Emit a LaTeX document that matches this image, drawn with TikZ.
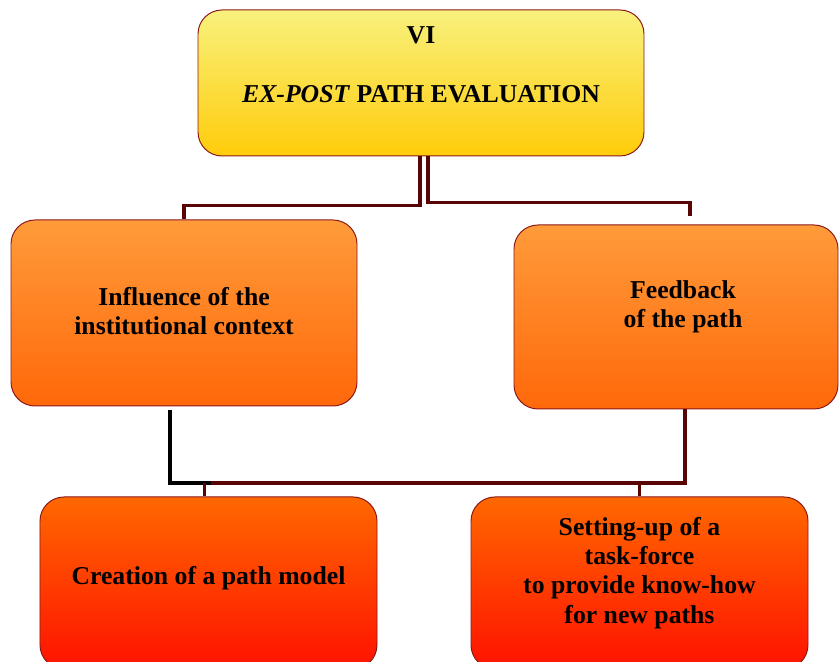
\documentclass[tikz,border=0pt]{standalone}
\usepackage{fontspec}
\setmainfont{Liberation Serif}
\usetikzlibrary{calc}
\definecolor{edge}{RGB}{140,25,25}
\definecolor{wire}{RGB}{90,5,5}
\definecolor{yelTop}{RGB}{248,241,125}
\definecolor{yelBot}{RGB}{255,204,10}
\definecolor{orTop}{RGB}{255,155,58}
\definecolor{orBot}{RGB}{255,104,10}
\definecolor{rdTop}{RGB}{255,104,0}
\definecolor{rdBot}{RGB}{255,18,0}

\begin{document}
\begin{tikzpicture}[
    box/.style={draw=edge, line width=0.7pt, rounded corners=0.6cm, inner sep=0pt},
    lbl/.style={align=center, font=\fontsize{18.3}{20.8}\selectfont\bfseries},
    conn/.style={draw=wire, line width=2.5pt}
  ]
    \useasboundingbox (0,0) rectangle (21,16.55);
    \clip (0,0) rectangle (21,16.55);

    \node[box, top color=yelTop, bottom color=yelBot, minimum width=11.15cm, minimum height=3.65cm] (top) at (10.525,14.475) {};
    \node[box, top color=orTop, bottom color=orBot, minimum width=8.65cm, minimum height=4.65cm] (infl) at (4.6,8.725) {};
    \node[box, top color=orTop, bottom color=orBot, minimum width=8.1cm, minimum height=4.6cm] (feed) at (16.9,8.625) {};
    \node[box, top color=rdTop, bottom color=rdBot, minimum width=8.425cm, minimum height=4.3cm] (creat) at (5.2125,1.975) {};
    \node[box, top color=rdTop, bottom color=rdBot, minimum width=8.425cm, minimum height=4.3cm] (task) at (15.9875,1.975) {};

    \node[lbl] (topT) at ($(top)+(0,0.45)$) {VI\\ \mbox{}\\ \textit{EX-POST} PATH EVALUATION};
    \node[lbl] (inflT) at ($(infl)+(0,0.05)$) {Influence of the\\ institutional context};
    \node[lbl] (feedT) at ($(feed)+(0.175,0.26)$) {Feedback\\ of the path};
    \node[lbl] (creatT) at ($(creat)+(0,0.13)$) {Creation of a path model};
    \node[lbl] (taskT) at ($(task)+(0,0.25)$) {Setting-up of a\\ task-force\\ to provide know-how\\ for new paths};

    \coordinate (bus) at (0,4.475);

    \draw[conn] ([xshift=-0.3mm]top.south) -- ++(0,-1.225) -| (infl.north);
    \draw[conn] ([xshift=1.75mm]top.south) -- ++(0,-1.15) -| ([xshift=3.5mm,yshift=2mm]feed.north);
    \draw[conn, draw=black] ([xshift=-3.5mm,yshift=-1mm]infl.south) |- ([xshift=0.5mm]creat.north |- bus);
    \draw[conn] ([xshift=0.5mm]creat.north |- bus) -| ([xshift=2.25mm]feed.south);
    \draw[conn, line width=1.8pt] ([xshift=-1mm]creat.north) -- ([xshift=-1mm]creat.north |- bus);
    \draw[conn, line width=1.8pt] (task.north) -- (task.north |- bus);
\end{tikzpicture}
\end{document}
